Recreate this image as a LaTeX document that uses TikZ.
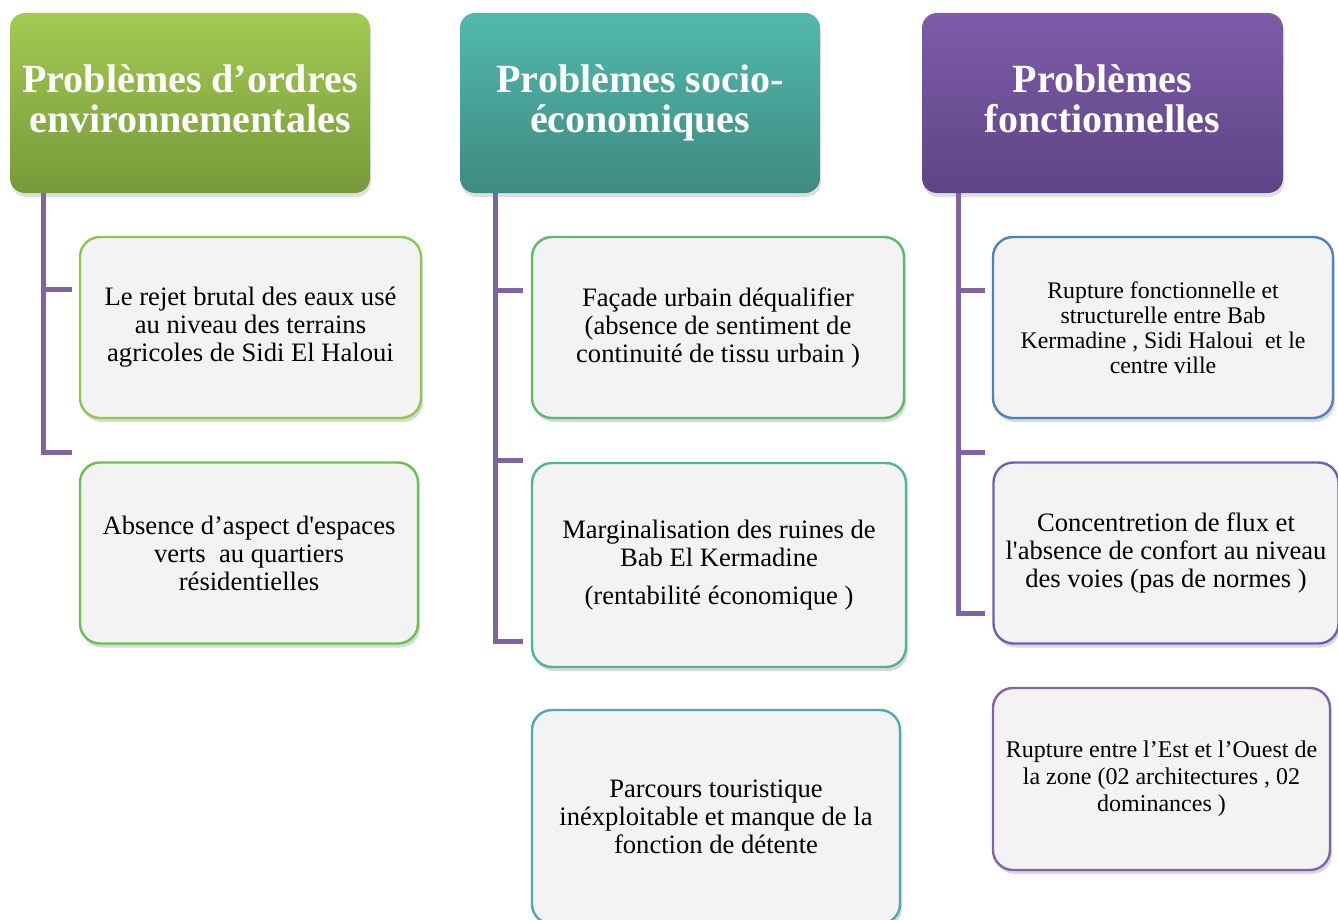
\documentclass[tikz,border=0pt]{standalone}
\usepackage{fontspec}
\setmainfont{Liberation Serif}
\definecolor{envgreen}{HTML}{8DBA45}
\definecolor{envgreentop}{HTML}{A2CB52}
\definecolor{envgreenbot}{HTML}{76993A}
\definecolor{socteal}{HTML}{48A89C}
\definecolor{socutop}{HTML}{52B9AC}
\definecolor{socubot}{HTML}{3E8A82}
\definecolor{fctpurple}{HTML}{7256A0}
\definecolor{fcttop}{HTML}{7E5BA8}
\definecolor{fctbot}{HTML}{5E4586}
\definecolor{linkpurple}{HTML}{8064A2}
\definecolor{boxfill}{HTML}{F3F3F3}
\definecolor{rimA}{HTML}{8CC850}
\definecolor{rimB}{HTML}{6CC050}
\definecolor{rimC}{HTML}{58BC6A}
\definecolor{rimD}{HTML}{50B496}
\definecolor{rimE}{HTML}{50A8B4}
\definecolor{rimF}{HTML}{5080C0}
\definecolor{rimG}{HTML}{6A62B8}
\definecolor{rimH}{HTML}{8064A8}
\usetikzlibrary{positioning, calc, shadows}

\tikzset{
	header/.style={rounded corners=7.5pt, minimum height=90pt, text=white, align=center,
		font=\fontsize{20}{20}\bfseries\selectfont,
		drop shadow={shadow xshift=0.5pt, shadow yshift=-2pt, opacity=0.25}},
	itembox/.style={rounded corners=10pt, draw=#1, line width=1.2pt, fill=boxfill, align=center,
		minimum height=90.5pt, font=\fontsize{13.3}{14}\selectfont,
		drop shadow={shadow xshift=1pt, shadow yshift=-2pt, opacity=0.3}},
	link/.style={linkpurple, line width=2.5pt}
}

\begin{document}
\begin{tikzpicture}[x=0.5pt, y=-0.5pt]
	\useasboundingbox (0,0) rectangle (1338,920);
	\clip (0,0) rectangle (1338,920);
	% headers
	\node[header, minimum width=180pt, top color=envgreentop, bottom color=envgreenbot] (h1) at (190,103) {Problèmes d’ordres\\environnementales\vphantom{q}};
	\node[header, minimum width=180pt, top color=socutop, bottom color=socubot] (h2) at (640,103) {Problèmes socio-\\économiques};
	\node[header, minimum width=180.5pt, top color=fcttop, bottom color=fctbot] (h3) at (1102.5,103) {Problèmes\\fonctionnelles\vphantom{q}};
	% environnementales
	\node[itembox=rimA, minimum width=170.5pt] (a1) at (250.5,327.5) {Le rejet brutal des eaux usé\\au niveau des terrains\\agricoles de Sidi El Haloui};
	\node[itembox=rimB, minimum width=169pt] (a2) at (249,553) {Absence d’aspect d\textquotesingle espaces\\verts\ \ au quartiers\\résidentielles};
	% socio-economiques
	\node[itembox=rimC, minimum width=186pt] (b1) at (718,327.5) {Façade urbain déqualifier\\(absence de sentiment de\\continuité de tissu urbain )};
	\node[itembox=rimD, minimum width=187pt, minimum height=102pt] (b2) at (719,565) {Marginalisation des ruines de\\Bab El Kermadine\\[5pt](rentabilité économique )};
	\node[itembox=rimE, minimum width=184pt, minimum height=107pt] (b3) at (716,817) {Parcours touristique\\inéxploitable et manque de la\\fonction de détente};
	% fonctionnelles
	\node[itembox=rimF, minimum width=170pt, font=\fontsize{11.9}{12.5}\selectfont] (c1) at (1163,327.5) {Rupture fonctionnelle et\\structurelle entre Bab\\Kermadine , Sidi Haloui\ \ et le\\centre ville};
	\node[itembox=rimG, minimum width=172.5pt] (c2) at (1166,553) {Concentretion de flux et\\l\textquotesingle absence de confort au niveau\\des voies (pas de normes )};
	\node[itembox=rimH, minimum width=168.5pt, minimum height=91pt, font=\fontsize{12}{13.5}\selectfont] (c3) at (1161.5,779) {Rupture entre l’Est et l’Ouest de\\la zone (02 architectures , 02\\dominances )};
	% connectors
	\coordinate (k1a) at (72,289);
	\coordinate (k1b) at (72,452);
	\coordinate (k2a) at (523,290);
	\coordinate (k2b) at (523,460);
	\coordinate (k2c) at (523,641);
	\coordinate (k3a) at (985,290);
	\coordinate (k3b) at (985,452);
	\coordinate (k3c) at (985,613);
	\draw[link] ([xshift=17pt]h1.south west) |- (k1a);
	\draw[link] ([xshift=17pt]h1.south west) |- (k1b);
	\draw[link] ([xshift=18pt]h2.south west) |- (k2a);
	\draw[link] ([xshift=18pt]h2.south west) |- (k2b);
	\draw[link] ([xshift=18pt]h2.south west) |- (k2c);
	\draw[link] ([xshift=18.5pt]h3.south west) |- (k3a);
	\draw[link] ([xshift=18.5pt]h3.south west) |- (k3b);
	\draw[link] ([xshift=18.5pt]h3.south west) |- (k3c);
\end{tikzpicture}
\end{document}
